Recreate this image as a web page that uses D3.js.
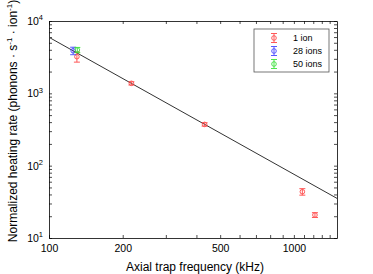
<!DOCTYPE html>
<html>
<head>
<meta charset="utf-8">
<script src="https://cdn.jsdelivr.net/npm/d3@7"></script>
<style>
  body { margin: 0; background: #fff; }
  svg text { font-family: Arial, "Liberation Sans", sans-serif; }
</style>
</head>
<body>
<svg width="373" height="274"></svg>
<script>
// single ion data
const ion1Freq = [130, 217, 432, 1083, 1219]
const ion1Rate = [3210, 1375, 372, 43.6, 20.8]
const ion1Err = [510, 70, 20, 4.5, 1.6]

// 28 ions
const ion28Freq = [125.5]
const ion28Rate = [3880]
const ion28Err = [460]

// 50 ions
const ion50Freq = [130.5]
const ion50Rate = [3980]
const ion50Err = [330]

// power law fit
const fitFreq = [100, 1500]
const fitRate = [5950, 35.3]

const xTickLabels = [100, 200, 500, 1000]
const yTickLabels = [10, 100, 1000, 10000]

const series = [
  { name: '1 ion', color: '#ff3b3b', freq: ion1Freq, rate: ion1Rate, err: ion1Err },
  { name: '28 ions', color: '#3b3bff', freq: ion28Freq, rate: ion28Rate, err: ion28Err },
  { name: '50 ions', color: '#2ee02e', freq: ion50Freq, rate: ion50Rate, err: ion50Err }
]

const margin = { left: 49, top: 21, right: 36, bottom: 36 }
const width = 373 - margin.left - margin.right
const height = 274 - margin.top - margin.bottom

const svg = d3.select('svg')
const g = svg.append('g').attr('transform', `translate(${margin.left},${margin.top})`)

const x = d3.scaleLog().domain([100, 1500]).range([0, width])
const y = d3.scaleLog().domain([10, 10000]).range([height, 0])

// minor ticks every 100 kHz, every unit on y decades
const xTicks = d3.range(100, 1500, 100)
const yTicks = []
;[10, 100, 1000].forEach(d => { for (let k = 1; k < 10; k++) yTicks.push(d * k) })
yTicks.push(10000)

const supers = { '0': '⁰', '1': '¹', '2': '²', '3': '³', '4': '⁴' }

const styleAxis = sel => {
  sel.select('.domain').attr('stroke', '#000').attr('stroke-width', 0.8)
  sel.selectAll('.tick line').attr('stroke', '#000').attr('stroke-width', 0.7)
  sel.selectAll('.tick text').attr('font-size', 10.5).attr('fill', '#000')
}

g.append('g')
  .attr('transform', `translate(0,${height})`)
  .call(d3.axisBottom(x).tickValues(xTicks).tickSize(-3).tickSizeOuter(0).tickPadding(7)
    .tickFormat(d => xTickLabels.includes(d) ? d : ''))
  .call(styleAxis)

g.append('g')
  .call(d3.axisTop(x).tickValues(xTicks).tickSize(-3).tickSizeOuter(0).tickFormat(''))
  .call(styleAxis)

g.append('g')
  .call(d3.axisLeft(y).tickValues(yTicks).tickSize(-3).tickSizeOuter(0).tickPadding(7).tickFormat(''))
  .call(styleAxis)
  .call(sel => sel.selectAll('.tick')
    .filter(d => yTickLabels.includes(d))
    .append('text')
    .attr('x', -6).attr('dy', '0.32em')
    .attr('text-anchor', 'end')
    .attr('font-size', 10.5)
    .attr('fill', '#000')
    .call(t => t.append('tspan').text('10'))
    .call(t => t.append('tspan').attr('font-size', 7.5).attr('dy', '-0.6em')
      .text(d => Math.round(Math.log10(d)))))

g.append('g')
  .attr('transform', `translate(${width},0)`)
  .call(d3.axisRight(y).tickValues(yTicks).tickSize(-3).tickSizeOuter(0).tickFormat(''))
  .call(styleAxis)

// fit line
const line = d3.line().x(d => x(d[0])).y(d => y(d[1]))
g.append('path')
  .datum(d3.zip(fitFreq, fitRate))
  .attr('d', line)
  .attr('fill', 'none')
  .attr('stroke', '#333')
  .attr('stroke-width', 1)

// error bars + markers
const drawErr = (sel, color) => {
  sel.append('line')
    .attr('x1', 0).attr('x2', 0)
    .attr('y1', d => d.lo).attr('y2', d => d.hi)
    .attr('stroke', color)
  sel.append('line')
    .attr('x1', -3).attr('x2', 3)
    .attr('y1', d => d.lo).attr('y2', d => d.lo)
    .attr('stroke', color)
  sel.append('line')
    .attr('x1', -3).attr('x2', 3)
    .attr('y1', d => d.hi).attr('y2', d => d.hi)
    .attr('stroke', color)
  sel.append('circle')
    .attr('r', 2.3)
    .attr('fill', 'none')
    .attr('stroke', color)
}

series.forEach(s => {
  const pts = s.freq.map((f, i) => ({
    cx: x(f), cy: y(s.rate[i]),
    lo: y(s.rate[i] - s.err[i]) - y(s.rate[i]),
    hi: y(s.rate[i] + s.err[i]) - y(s.rate[i])
  }))
  g.append('g').selectAll('g')
    .data(pts)
    .join('g')
    .attr('transform', d => `translate(${d.cx},${d.cy})`)
    .attr('opacity', 0.85)
    .call(drawErr, s.color)
})

// legend
const legend = g.append('g').attr('transform', `translate(${205},${8})`)
legend.append('rect')
  .attr('width', 75).attr('height', 43)
  .attr('fill', '#fff')
  .attr('stroke', '#555')
  .attr('stroke-width', 0.8)
series.forEach((s, i) => {
  const row = legend.append('g').attr('transform', `translate(20,${9 + i * 13})`)
  row.append('g')
    .datum({ lo: 4.5, hi: -4.5 })
    .attr('opacity', 0.85)
    .call(drawErr, s.color)
  row.append('text')
    .attr('x', 19).attr('dy', '0.35em')
    .attr('font-size', 9)
    .text(s.name)
})

// axis labels
svg.append('text')
  .attr('x', margin.left + width / 2 + 2)
  .attr('y', 271)
  .attr('text-anchor', 'middle')
  .attr('font-size', 12)
  .text('Axial trap frequency (kHz)')

const yl = svg.append('text')
  .attr('transform', `translate(17,${121}) rotate(-90)`)
  .attr('text-anchor', 'middle')
  .attr('font-size', 12)
yl.append('tspan').text('Normalized heating rate (phonons · s')
yl.append('tspan').attr('font-size', 8).attr('dy', -5).text('-1')
yl.append('tspan').attr('dy', 5).text(' · ion')
yl.append('tspan').attr('font-size', 8).attr('dy', -5).text('-1')
yl.append('tspan').attr('dy', 5).text(')')
</script>
</body>
</html>
